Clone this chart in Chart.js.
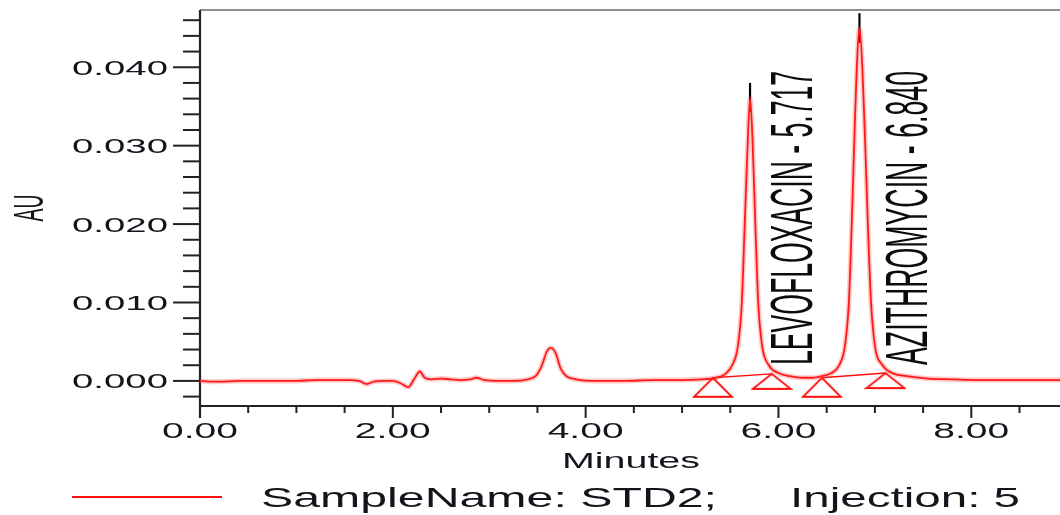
<!DOCTYPE html>
<html><head><meta charset="utf-8">
<script src="https://cdn.jsdelivr.net/npm/chart.js@4.4.1/dist/chart.umd.min.js"></script>
<style>html,body{margin:0;padding:0;background:#fff;}canvas{display:block;}</style>
</head><body>
<canvas id="c" width="1060" height="515"></canvas>
<script>
// ---- data ----
const traceTime = [0.00,0.10,0.20,0.40,0.60,0.80,1.00,1.20,1.40,1.55,1.65,1.73,1.80,1.90,2.00,2.08,2.16,2.22,2.28,2.33,2.40,2.50,2.60,2.70,2.80,2.87,2.95,3.10,3.25,3.40,3.48,3.54,3.60,3.64,3.69,3.74,3.80,3.90,4.10,4.40,4.70,5.00,5.20,5.35,5.45,5.52,5.58,5.62,5.65,5.68,5.705,5.73,5.76,5.79,5.83,5.90,6.00,6.12,6.25,6.35,6.45,6.55,6.63,6.69,6.73,6.76,6.79,6.82,6.84,6.87,6.90,6.93,6.96,7.00,7.08,7.18,7.33,7.55,7.80,8.10,8.40,8.70,8.92];
const traceAU = [0.0000,-0.0001,-0.0001,0.0000,0.0000,0.0000,0.0000,0.0001,0.0001,0.0001,0.0000,-0.0004,-0.0001,0.0000,0.0000,-0.0003,-0.0008,0.0002,0.0012,0.0004,0.0002,0.0003,0.0002,0.0001,0.0002,0.0004,0.0001,0.0000,0.0000,0.0002,0.0006,0.0018,0.0038,0.0042,0.0035,0.0016,0.0006,0.0002,0.0000,0.0000,0.0001,0.0001,0.0002,0.0004,0.0009,0.0020,0.0045,0.0100,0.0200,0.0300,0.0360,0.0310,0.0200,0.0100,0.0045,0.0020,0.0010,0.0006,0.0004,0.0004,0.0006,0.0010,0.0020,0.0045,0.0100,0.0200,0.0320,0.0420,0.0450,0.0400,0.0300,0.0190,0.0100,0.0045,0.0020,0.0010,0.0006,0.0003,0.0002,0.0001,0.0001,0.0001,0.0001];

const peakNames = ['LEVOFLOXACIN', 'AZITHROMYCIN'];
const peakRetention = [5.717, 6.840];
const apexMarkTime = [5.705, 6.840];
const apexMarkLow = [0.0343, 0.0431];
const apexMarkHigh = [0.0380, 0.0469];
const baseStartTime = [5.32, 6.45];
const baseStartAU = [0.0004, 0.0004];
const baseEndTime = [5.93, 7.11];
const baseEndAU = [0.0009, 0.0010];

const xTickValues = [0, 2, 4, 6, 8];
const xTickLabels = ['0.00', '2.00', '4.00', '6.00', '8.00'];
const yTickValues = [0, 0.01, 0.02, 0.03, 0.04];
const yTickLabels = ['0.000', '0.010', '0.020', '0.030', '0.040'];
const xTitle = 'Minutes';
const yTitle = 'AU';
const legendParts = ['SampleName: STD2;', 'Injection: 5'];

// ---- build datasets ----
const RED = '#ff0d0d';
const tracePts = traceTime.map((t, i) => ({x: t, y: traceAU[i]}));

function triImage(w, h) {
  const c = document.createElement('canvas');
  c.width = w + 4; c.height = 2 * h + 4;
  const g = c.getContext('2d');
  const cx = c.width / 2, cy = c.height / 2;
  g.strokeStyle = RED; g.lineWidth = 1.8;
  g.beginPath();
  g.moveTo(cx, cy);
  g.lineTo(cx + w / 2, cy + h);
  g.lineTo(cx - w / 2, cy + h);
  g.closePath();
  g.stroke();
  return c;
}
const triBig = triImage(38, 19);
const triSmall = triImage(38, 15);

const markerPts = [], markerStyles = [];
for (let i = 0; i < baseStartTime.length; i++) {
  markerPts.push({x: baseStartTime[i], y: baseStartAU[i]}); markerStyles.push(triBig);
  markerPts.push({x: baseEndTime[i], y: baseEndAU[i]}); markerStyles.push(triSmall);
}

const datasets = [
  {data: tracePts, borderColor: 'rgba(255,60,60,0.28)', borderWidth: 5, pointRadius: 0, cubicInterpolationMode: 'monotone'},
  {data: tracePts, borderColor: RED, borderWidth: 1.8, pointRadius: 0, cubicInterpolationMode: 'monotone'}
];
for (let i = 0; i < baseStartTime.length; i++) {
  datasets.push({data: [{x: baseStartTime[i], y: baseStartAU[i]}, {x: baseEndTime[i], y: baseEndAU[i]}],
    borderColor: RED, borderWidth: 1.4, pointRadius: 0});
  datasets.push({data: [{x: apexMarkTime[i], y: apexMarkLow[i]}, {x: apexMarkTime[i], y: apexMarkHigh[i]}],
    borderColor: '#000', borderWidth: 2.2, pointRadius: 0});
}
datasets.push({type: 'scatter', data: markerPts, pointStyle: markerStyles, pointRadius: 10, showLine: false, clip: false});

// ---- text helper: glyphs are stretched like the scanned original ----
const FONT = '"Liberation Sans", Arial, sans-serif';
function drawText(ctx, text, x, y, o) {
  ctx.save();
  ctx.font = o.size + 'px ' + FONT;
  const w = ctx.measureText(o.ref || text).width;
  const sw = o.width / w;
  const sh = o.cap / (0.716 * o.size);
  ctx.translate(x, y);
  if (o.rotate) ctx.rotate(o.rotate);
  ctx.scale(sw, sh);
  ctx.textAlign = o.align || 'left';
  ctx.textBaseline = 'alphabetic';
  ctx.fillStyle = o.color || '#14141c';
  ctx.fillText(text, 0, 0);
  ctx.restore();
}

const axesPlugin = {
  id: 'axesPlugin',
  beforeDatasetsDraw(chart) {
    const ctx = chart.ctx, a = chart.chartArea;
    const xs = chart.scales.x, ys = chart.scales.y;
    ctx.save();
    // top frame
    ctx.strokeStyle = '#6a6a6a'; ctx.lineWidth = 1.5;
    ctx.beginPath(); ctx.moveTo(a.left, a.top); ctx.lineTo(a.right, a.top); ctx.stroke();
    ctx.strokeStyle = '#222'; ctx.lineWidth = 2.2;
    // y axis
    ctx.beginPath(); ctx.moveTo(a.left, a.top); ctx.lineTo(a.left, a.bottom + 12); ctx.stroke();
    // x axis
    ctx.beginPath(); ctx.moveTo(a.left, a.bottom); ctx.lineTo(a.right, a.bottom); ctx.stroke();
    ctx.lineWidth = 2;
    ys.ticks.forEach(t => {
      const v = t.value; const py = ys.getPixelForValue(v);
      const major = Math.abs(v / 0.01 - Math.round(v / 0.01)) < 1e-6;
      const len = major ? 27 : 17;
      ctx.beginPath(); ctx.moveTo(a.left - len, py); ctx.lineTo(a.left, py); ctx.stroke();
    });
    xs.ticks.forEach(t => {
      const v = t.value; const px = xs.getPixelForValue(v);
      const major = Math.abs(v / 2 - Math.round(v / 2)) < 1e-6;
      const len = major ? 12 : 7;
      ctx.beginPath(); ctx.moveTo(px, a.bottom); ctx.lineTo(px, a.bottom + len); ctx.stroke();
    });
    ctx.restore();
  },
  afterDraw(chart) {
    const ctx = chart.ctx, a = chart.chartArea;
    const xs = chart.scales.x, ys = chart.scales.y;
    yTickValues.forEach((v, i) => {
      drawText(ctx, yTickLabels[i], a.left - 32, ys.getPixelForValue(v) + 7.5,
        {size: 21, cap: 15, width: 96, ref: '0.040', align: 'right'});
    });
    xTickValues.forEach((v, i) => {
      drawText(ctx, xTickLabels[i], xs.getPixelForValue(v), a.bottom + 32,
        {size: 22, cap: 16, width: 76, ref: '2.00', align: 'center'});
    });
    drawText(ctx, xTitle, 631, 468, {size: 22, cap: 16, width: 138, align: 'center'});
    drawText(ctx, yTitle, 43, 208, {size: 20, cap: 30, width: 27, align: 'center', rotate: -Math.PI / 2});
    // peak labels
    const offs = [61, 68];
    peakNames.forEach((n, i) => {
      const txt = n + ' - ' + peakRetention[i].toFixed(3);
      drawText(ctx, txt, xs.getPixelForValue(peakRetention[i]) + offs[i], 365,
        {size: 28, cap: 42, width: 294, align: 'left', rotate: -Math.PI / 2, color: '#0c0c10'});
    });
    // legend
    ctx.save();
    ctx.strokeStyle = RED; ctx.lineWidth = 2;
    ctx.beginPath(); ctx.moveTo(72, 497); ctx.lineTo(222, 497); ctx.stroke();
    ctx.restore();
    drawText(ctx, legendParts[0], 261, 507, {size: 28, cap: 20, width: 456});
    drawText(ctx, legendParts[1], 790, 507, {size: 28, cap: 20, width: 230});
  }
};

new Chart(document.getElementById('c'), {
  type: 'line',
  data: {datasets},
  options: {
    responsive: false,
    animation: false,
    devicePixelRatio: 1,
    layout: {autoPadding: false, padding: {left: 200, top: 10, right: 0, bottom: 109}},
    plugins: {legend: {display: false}, tooltip: {enabled: false}},
    scales: {
      x: {type: 'linear', min: 0, max: 8.92,
        ticks: {display: false, stepSize: 0.5, includeBounds: false},
        grid: {display: false, drawTicks: false, tickLength: 0}, border: {display: false}},
      y: {type: 'linear', min: -0.0032, max: 0.0473,
        ticks: {display: false, stepSize: 0.002, includeBounds: false},
        grid: {display: false, drawTicks: false, tickLength: 0}, border: {display: false}}
    }
  },
  plugins: [axesPlugin]
});
</script>
</body></html>
